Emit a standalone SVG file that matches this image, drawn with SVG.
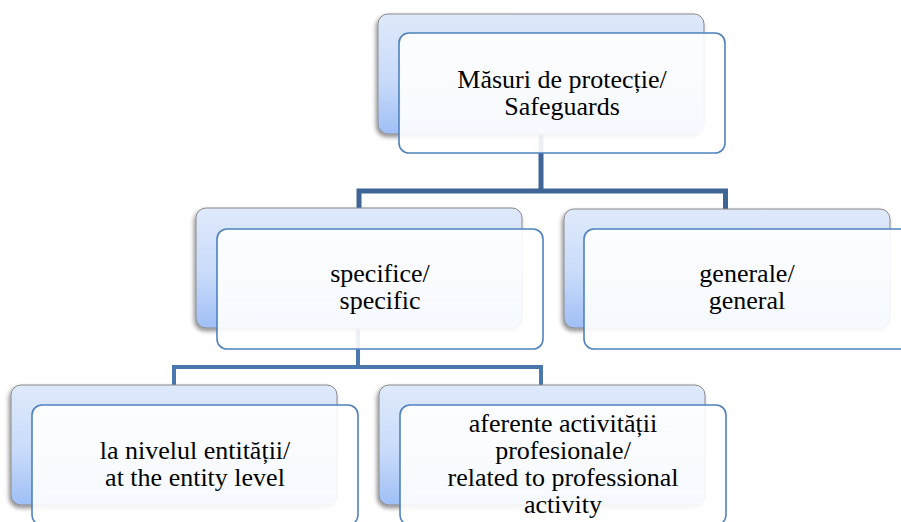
<svg xmlns="http://www.w3.org/2000/svg" width="901" height="522" viewBox="0 0 901 522">
  <defs>
    <linearGradient id="backGrad" x1="0" y1="0" x2="0" y2="1">
      <stop offset="0" stop-color="#dfe9fb"/>
      <stop offset="0.55" stop-color="#c9dbfa"/>
      <stop offset="1" stop-color="#9fbff6"/>
    </linearGradient>
    <filter id="shadow" x="-10%" y="-10%" width="120%" height="125%">
      <feDropShadow dx="-1.5" dy="2.5" stdDeviation="2" flood-color="#000" flood-opacity="0.45"/>
    </filter>
  </defs>
  <style>
    .back { fill: url(#backGrad); stroke: #8a8a8a; stroke-width: 1; filter: url(#shadow); }
    .front { fill: #ffffff; fill-opacity: 0.9; stroke: #4f81bd; stroke-width: 1.6; }
    .lbl { font-size: 26px; fill: #000; text-anchor: middle; }
    .c1 { fill: none; stroke: #3e6596; stroke-width: 5; stroke-linejoin: miter; }
    .c2 { fill: none; stroke: #4a77ae; stroke-width: 4; stroke-linejoin: miter; }
  </style>
  <rect width="901" height="522" fill="#ffffff"/>

  <g id="connectors">
    <path class="c1" d="M541,133 V191"/>
    <path class="c1" d="M359,209 V191 H725.5 V210"/>
    <path class="c2" d="M358,329 V367"/>
    <path class="c2" d="M174,386 V367 H541 V386"/>
  </g>

  <g font-family="'Liberation Serif', 'DejaVu Serif', serif">
  <g id="node-safeguards">
    <rect class="back" x="378" y="14" width="326" height="120" rx="10"/>
    <rect class="front" x="399" y="33" width="326" height="120" rx="10"/>
    <text class="lbl" x="562" y="88">Măsuri de protecție/</text>
    <text class="lbl" x="562" y="115">Safeguards</text>
  </g>

  <g id="node-specific">
    <rect class="back" x="196" y="208" width="326" height="120" rx="10"/>
    <rect class="front" x="217" y="229" width="326" height="120" rx="10"/>
    <text class="lbl" x="380" y="282">specifice/</text>
    <text class="lbl" x="380" y="309">specific</text>
  </g>

  <g id="node-general">
    <rect class="back" x="564" y="209" width="326" height="119" rx="10"/>
    <rect class="front" x="584" y="229" width="326" height="120" rx="10"/>
    <text class="lbl" x="747" y="282">generale/</text>
    <text class="lbl" x="747" y="309">general</text>
  </g>

  <g id="node-entity">
    <rect class="back" x="11" y="385" width="326" height="120" rx="10"/>
    <rect class="front" x="32" y="405" width="326" height="120" rx="10"/>
    <text class="lbl" x="195" y="459">la nivelul entității/</text>
    <text class="lbl" x="195" y="486">at the entity level</text>
  </g>

  <g id="node-professional">
    <rect class="back" x="379" y="385" width="326" height="120" rx="10"/>
    <rect class="front" x="400" y="405" width="326" height="120" rx="10"/>
    <text class="lbl" x="563" y="432">aferente activității</text>
    <text class="lbl" x="563" y="459">profesionale/</text>
    <text class="lbl" x="563" y="486">related to professional</text>
    <text class="lbl" x="563" y="513">activity</text>
  </g>
  </g>
</svg>
